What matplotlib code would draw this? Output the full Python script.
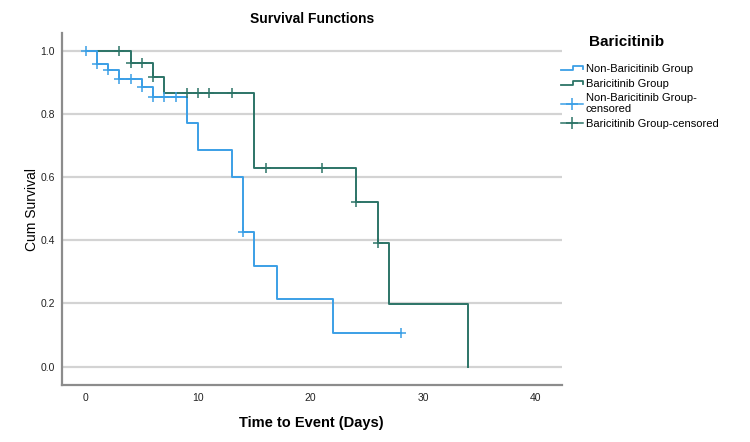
import matplotlib.pyplot as plt
from matplotlib.lines import Line2D
from matplotlib.legend_handler import HandlerBase

plt.rcParams['font.family'] = ['Liberation Sans', 'DejaVu Sans']

# Kaplan-Meier steps (time, survival after the step)
nonbari_t = [0, 1, 2, 3, 5, 6, 9, 10, 13, 14, 15, 17, 22, 28]
nonbari_s = [1.0, 0.956, 0.940, 0.909, 0.884, 0.854, 0.770, 0.684, 0.599, 0.425, 0.319, 0.213, 0.105, 0.105]
nonbari_cens_t = [0, 1, 2, 3, 4, 5, 6, 7, 8, 14, 28]
nonbari_cens_s = [1.0, 0.956, 0.940, 0.909, 0.909, 0.884, 0.854, 0.854, 0.854, 0.425, 0.105]

bari_t = [0, 4, 6, 7, 15, 24, 26, 27, 34]
bari_s = [1.0, 0.959, 0.917, 0.865, 0.629, 0.522, 0.392, 0.198, 0.0]
bari_cens_t = [3, 4, 5, 6, 9, 10, 11, 13, 16, 21, 24, 26]
bari_cens_s = [1.0, 0.959, 0.959, 0.917, 0.865, 0.865, 0.865, 0.865, 0.629, 0.629, 0.522, 0.392]

labels = ['Non-Baricitinib Group', 'Baricitinib Group',
          'Non-Baricitinib Group-\ncensored', 'Baricitinib Group-censored']
c_blue = '#3b9fe6'
c_teal = '#2c7467'


class HandlerStep(HandlerBase):
    # small step icon like the SPSS legend
    def create_artists(self, legend, orig, xd, yd, w, h, fs, trans):
        xs = [-xd, -xd + 0.55 * w, -xd + 0.55 * w, -xd + w, -xd + w]
        ys = [-yd + 0.25 * h, -yd + 0.25 * h, -yd + 0.75 * h, -yd + 0.75 * h, -yd + 0.4 * h]
        ln = Line2D(xs, ys, color=orig.get_color(), lw=1.3)
        ln.set_transform(trans)
        return [ln]


fig = plt.figure(figsize=(7.5, 4.42), dpi=100)
ax = fig.add_axes([0.0827, 0.129, 0.666, 0.796])

for y in [0, 0.2, 0.4, 0.6, 0.8, 1.0]:
    ax.axhline(y, color='#d3d3d3', lw=1.6, zorder=0)

ax.plot(bari_t, bari_s, drawstyle='steps-post', color=c_teal, lw=1.4)
ax.plot(nonbari_t, nonbari_s, drawstyle='steps-post', color=c_blue, lw=1.4)
ax.plot(bari_cens_t, bari_cens_s, ls='none', marker='+', ms=7, mew=1.1, color=c_teal)
ax.plot(nonbari_cens_t, nonbari_cens_s, ls='none', marker='+', ms=7, mew=1.1, color=c_blue)

ax.set_xlim(-2.1, 42.3)
ax.set_ylim(-0.058, 1.055)
ax.set_xticks([0, 10, 20, 30, 40])
ax.set_yticks([0, 0.2, 0.4, 0.6, 0.8, 1.0])
ax.set_yticklabels(['0.0', '0.2', '0.4', '0.6', '0.8', '1.0'])
ax.tick_params(length=0, labelsize=7.5, colors='#222222')
ax.tick_params(axis='y', pad=5)
ax.tick_params(axis='x', pad=6)
for s in ['top', 'right']:
    ax.spines[s].set_visible(False)
for s in ['left', 'bottom']:
    ax.spines[s].set_color('#8c8c8c')
    ax.spines[s].set_linewidth(1.6)

ax.set_title('Survival Functions', fontsize=10, fontweight='bold', pad=7)
ax.set_xlabel('Time to Event (Days)', fontsize=10.5, fontweight='bold', labelpad=9)
ax.set_ylabel('Cum Survival', fontsize=10, labelpad=1)

fig.text(589 / 750, 1 - 42 / 442, 'Baricitinib', fontsize=11, fontweight='bold',
         ha='left', va='center')
handles = [Line2D([], [], color=c_blue), Line2D([], [], color=c_teal),
           Line2D([], [], color=c_blue, marker='+', ms=9, mew=1.1, lw=1.1),
           Line2D([], [], color=c_teal, marker='+', ms=9, mew=1.1, lw=1.1)]
leg = fig.legend(handles, labels, loc='upper left', bbox_to_anchor=(0.742, 0.865),
                 frameon=False, fontsize=8, borderaxespad=0,
                 handlelength=2.0, handletextpad=0.25, labelspacing=0.42,
                 handler_map={handles[0]: HandlerStep(), handles[1]: HandlerStep()})
for t in leg.get_texts():
    t.set_linespacing(1.1)

fig.savefig('out.png', dpi=100)
